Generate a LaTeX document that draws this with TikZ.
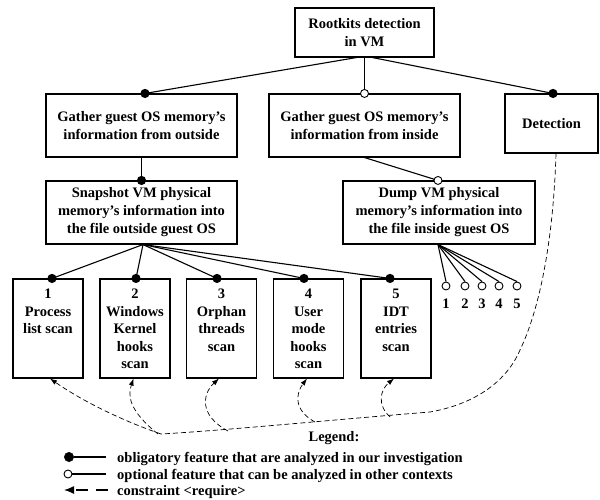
\documentclass[tikz,border=0pt]{standalone}
\usepackage{fontspec}
\setmainfont{Liberation Serif}
\usetikzlibrary{arrows.meta,calc}
\begin{document}
\begin{tikzpicture}[x=1pt,y=-1pt,
  font=\fontsize{14.5}{18}\selectfont\bfseries,
  box/.style={draw,line width=1.1pt,align=center,inner sep=0pt},
  conn/.style={line width=1.1pt},
  oblig/.style={circle,fill=black,draw=black,inner sep=0pt,minimum size=8pt},
  optl/.style={circle,fill=white,draw=black,line width=0.9pt,inner sep=0pt,minimum size=8pt},
  req/.style={dash pattern=on 5pt off 3pt,line width=0.7pt},
  reqarrow/.style={req,-{Latex[length=7pt,width=5pt]}},
  lbl/.style={inner sep=0pt,align=center}]
\useasboundingbox (0,0) rectangle (600,500);

% boxes
\node[box,minimum width=139pt,minimum height=49pt] (root) at (364.5,32.5) {Rootkits detection\\in VM};
\node[box,minimum width=191pt,minimum height=63pt] (A) at (141.5,125.5) {Gather guest OS memory’s\\information from outside};
\node[box,minimum width=191pt,minimum height=63pt] (B) at (364.5,125.5) {Gather guest OS memory’s\\information from inside};
\node[box,minimum width=93pt,minimum height=59pt] (det) at (551.5,123.5) {Detection};
\node[box,minimum width=191pt,minimum height=63pt] (snap) at (141.5,212.5) {Snapshot VM physical\\memory’s information into\\the file outside guest OS};
\node[box,minimum width=192pt,minimum height=63pt] (dump) at (439,212.5) {Dump VM physical\\memory’s information into\\the file inside guest OS};

\foreach \i/\cx in {1/48,2/135,3/221.5,4/308.5,5/396}{
  \node[box,minimum width=70pt,minimum height=99pt] (b\i) at (\cx,328.5) {};
}
\begin{scope}[every node/.style={lbl,anchor=north,font=\fontsize{14.5}{17.5}\selectfont\bfseries}]
\node at (48,289) {1\\Process\\list scan};
\node at (135,289) {2\\Windows\\Kernel\\hooks\\scan};
\node at (221.5,289) {3\\Orphan\\threads\\scan};
\node at (308.5,289) {4\\User\\mode\\hooks\\scan};
\node at (396,289) {5\\IDT\\entries\\scan};
\end{scope}

% root connectors
\draw[conn] ([xshift=-8pt]root.south) -- ([xshift=3.5pt]A.north) node[oblig]{};
\draw[conn] (root.south) -- (B.north) node[optl]{};
\draw[conn] ([xshift=8pt]root.south) -- ([xshift=1.5pt]det.north) node[oblig]{};

% level 3 connectors
\draw[conn] (A.south) -- (snap.north) node[oblig]{};
\draw[conn] (B.south) -- ([xshift=-1pt]dump.north) node[optl]{};

% level 4 connectors
\foreach \i/\dx in {1/4,2/1,3/-4.5,4/-4.5,5/-6}{
  \draw[conn] ([xshift=1.5pt]snap.south) -- ([xshift=\dx pt]b\i.north) node[oblig]{};
}

% optional items under dump
\foreach \i/\cx in {1/446,2/465,3/482,4/499,5/517}{
  \node[optl] (o\i) at (\cx,286) {};
  \node[lbl,anchor=base] (n\i) at (\cx,308) {\i};
  \draw[conn] ([xshift=-1pt]dump.south) -- (o\i.north);
}

% constraint curve
\coordinate (c0) at (161,434);
\coordinate (c1) at (228,431);
\coordinate (c2) at (315,422);
\coordinate (c3) at (390,417);
\draw[req] ([xshift=4.5pt]det.south) .. controls (553,250) and (537,315) .. (520,350)
  .. controls (505,385) and (470,405) .. (430,412)
  .. controls (330,420) and (230,430) .. (c0);
\draw[reqarrow] (c0) .. controls (115,418) and (78,398) .. ([xshift=2pt]b1.south);
\draw[reqarrow] ([xshift=-3pt]c0) .. controls (128,410) and (128,395) .. ([xshift=-1.5pt]b2.south);
\draw[reqarrow] (c1) .. controls (198,415) and (203,393) .. ([xshift=-2.5pt]b3.south);
\draw[reqarrow] (c2) .. controls (293,410) and (296,393) .. ([xshift=-1.5pt]b4.south);
\draw[reqarrow] (c3) .. controls (377,405) and (380,390) .. ([xshift=-2pt]b5.south);

% legend
\node[lbl] (leg) at (334,438) {Legend:};
\node[oblig,minimum size=9.5pt] (l1a) at (69,457) {};
\coordinate (l1b) at (106,457);
\draw[conn] (l1a) -- (l1b);
\node[lbl,anchor=base west] (t1) at (117,462) {obligatory feature that are analyzed in our investigation};
\node[optl] (l2a) at (68,474) {};
\coordinate (l2b) at (106,474);
\draw[conn] (l2a) -- (l2b);
\node[lbl,anchor=base west] (t2) at (117,479) {optional feature that can be analyzed in other contexts};
\coordinate (l3a) at (64,490);
\coordinate (l3b) at (108,490);
\draw[line width=1.3pt,dash pattern=on 12pt off 8pt,-{Latex[length=10pt,width=8pt]}] (l3b) -- (l3a);
\node[lbl,anchor=base west] (t3) at (117,495) {constraint <require>};
\end{tikzpicture}
\end{document}
